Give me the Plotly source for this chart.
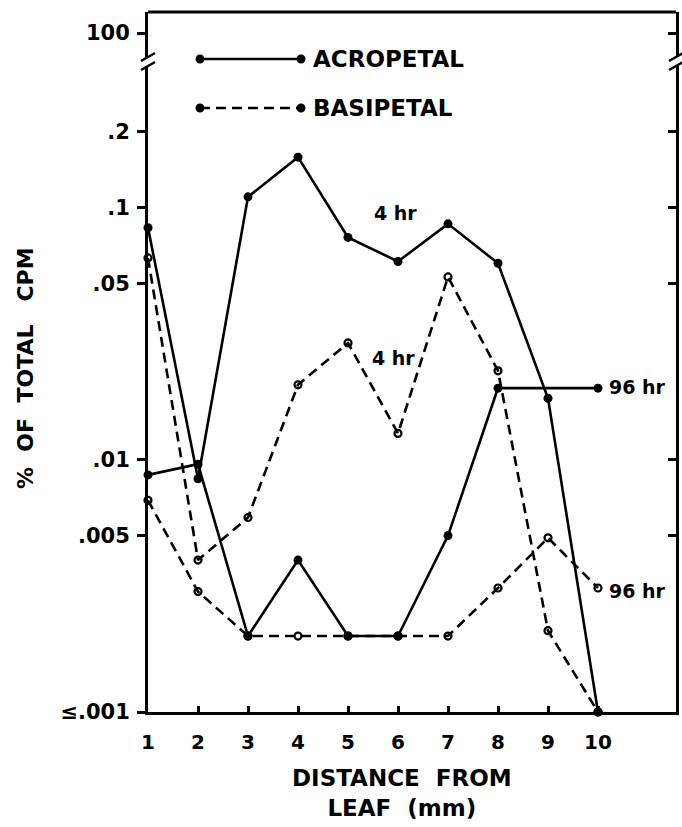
import plotly.graph_objects as go

# ---------------- data ----------------
distance = [1, 2, 3, 4, 5, 6, 7, 8, 9, 10]
acro_4hr = [0.083, 0.0084, 0.110, 0.158, 0.076, 0.061, 0.086, 0.060, 0.0175, 0.001]
acro_96hr_x = [1, 2, 3, 4, 5, 6, 7, 8, 10]
acro_96hr = [0.0087, 0.0096, 0.002, 0.004, 0.002, 0.002, 0.005, 0.0192, 0.0192]
basi_4hr = [0.063, 0.0040, 0.0059, 0.0198, 0.029, 0.0127, 0.053, 0.0225, 0.0021, 0.001]
basi_96hr = [0.0069, 0.0030, 0.002, 0.002, 0.002, 0.002, 0.002, 0.0031, 0.0049, 0.0031]

y_tickvals = [0.001, 0.005, 0.01, 0.05, 0.1, 0.2]
y_ticktext = ["≤.001", ".005", ".01", ".05", ".1", ".2"]
top_tickvals = [100]
top_ticktext = ["100"]
x_tickvals = distance

FAM = "DejaVu Sans"
BLACK = "black"
LW = 2.6
AXW = 3

fig = go.Figure()

solid_line = dict(color=BLACK, width=LW)
dash_line = dict(color=BLACK, width=LW, dash="10px,6px")
filled = dict(symbol="circle", size=9, color=BLACK)
hollow = dict(symbol="circle-open", size=7, color=BLACK, line=dict(width=2.2, color=BLACK))

fig.add_trace(go.Scatter(x=distance, y=acro_4hr, mode="lines+markers", line=solid_line,
                         marker=filled, cliponaxis=False, name="Acropetal 4 hr"))
fig.add_trace(go.Scatter(x=acro_96hr_x, y=acro_96hr, mode="lines+markers", line=solid_line,
                         marker=filled, cliponaxis=False, name="Acropetal 96 hr"))
fig.add_trace(go.Scatter(x=distance, y=basi_4hr, mode="lines+markers", line=dash_line,
                         marker=hollow, cliponaxis=False, name="Basipetal 4 hr"))
fig.add_trace(go.Scatter(x=distance, y=basi_96hr, mode="lines+markers", line=dash_line,
                         marker=hollow, cliponaxis=False, name="Basipetal 96 hr"))
# empty traces so that the frame axes (upper break section and right side) are drawn
for ya in ("y2", "y3", "y4"):
    fig.add_trace(go.Scatter(x=[None], y=[None], yaxis=ya, mode="markers",
                             hoverinfo="skip", showlegend=False))

W, H = 682, 827
ML, MR, MT, MB = 148, 6, 12, 115
PW, PH = W - ML - MR, H - MT - MB


def px(xp):
    return (xp - ML) / PW


def py(yp):
    return (H - MB - yp) / PH


main_top = py(66)
upper_bot = py(57)
y_range = [-3.0, -0.44]
top_range = [100 - 0.533 * 45, 100 + 0.467 * 45]

tickfont = dict(family=FAM, size=21, color=BLACK, weight="bold")

axis_common = dict(showgrid=False, zeroline=False, showline=True, linecolor=BLACK,
                   linewidth=AXW, tickcolor=BLACK, tickwidth=2.5)

fig.update_layout(
    width=W, height=H,
    margin=dict(l=ML, r=MR, t=MT, b=MB, pad=0),
    paper_bgcolor="white", plot_bgcolor="white",
    showlegend=False,
    xaxis=dict(**axis_common, range=[1, 1 + PW / 50], tickvals=x_tickvals,
               ticks="inside", ticklen=6, ticklabelstandoff=10,
               tickfont=dict(family=FAM, size=20, color=BLACK, weight="bold")),
    yaxis=dict(**axis_common, type="log", range=y_range, domain=[0, main_top],
               tickvals=y_tickvals, ticktext=y_ticktext, ticks="outside", ticklen=8,
               ticklabelstandoff=3, tickfont=tickfont),
    yaxis2=dict(**axis_common, anchor="x", range=top_range, domain=[upper_bot, 1],
                tickvals=top_tickvals, ticktext=top_ticktext, ticks="outside", ticklen=8,
                ticklabelstandoff=3, tickfont=tickfont),
    yaxis3=dict(**axis_common, type="log", range=y_range, overlaying="y", side="right",
                tickvals=y_tickvals, ticks="inside", ticklen=8, showticklabels=False),
    yaxis4=dict(**axis_common, range=top_range, overlaying="y2", side="right",
                tickvals=top_tickvals, ticks="inside", ticklen=8, showticklabels=False),
)

shapes = []
# top frame line
shapes.append(dict(type="line", xref="paper", yref="paper", x0=0, x1=1, y0=1, y1=1,
                   line=dict(color=BLACK, width=AXW)))
# axis break slashes (left and right)
for xa in (0, 1):
    for yb in (57, 66):
        shapes.append(dict(type="line", xref="paper", yref="paper",
                           xsizemode="pixel", ysizemode="pixel",
                           xanchor=xa, yanchor=py(yb), x0=-7, x1=7, y0=-4, y1=4,
                           line=dict(color=BLACK, width=2.5)))
# legend samples
for yl, dash in ((59, None), (108, "10px,6px")):
    ln = dict(color=BLACK, width=LW)
    if dash:
        ln["dash"] = dash
    shapes.append(dict(type="line", xref="paper", yref="paper",
                       x0=px(200), x1=px(301), y0=py(yl), y1=py(yl), line=ln))
    for xe in (200, 301):
        shapes.append(dict(type="circle", xref="paper", yref="paper",
                           xsizemode="pixel", ysizemode="pixel",
                           xanchor=px(xe), yanchor=py(yl), x0=-4.5, x1=4.5, y0=-4.5, y1=4.5,
                           fillcolor=BLACK, line=dict(color=BLACK, width=0)))
fig.update_layout(shapes=shapes)

bold = lambda s: dict(family=FAM, size=s, color=BLACK, weight="bold")
ann = []
ann.append(dict(text="ACROPETAL", x=px(311), y=py(59), xanchor="left", yanchor="middle",
                font=bold(23)))
ann.append(dict(text="BASIPETAL", x=px(311), y=py(108), xanchor="left", yanchor="middle",
                font=bold(23)))
ann.append(dict(text="4 hr", x=px(395), y=py(213), xanchor="center", yanchor="middle",
                font=bold(19)))
ann.append(dict(text="4 hr", x=px(393), y=py(358), xanchor="center", yanchor="middle",
                font=bold(19)))
ann.append(dict(text="96 hr", x=px(607), y=py(387), xanchor="left", yanchor="middle",
                font=bold(19)))
ann.append(dict(text="96 hr", x=px(607), y=py(591), xanchor="left", yanchor="middle",
                font=bold(19)))
ann.append(dict(text="%  OF  TOTAL   CPM", x=px(25), y=py(368), xanchor="center",
                yanchor="middle", textangle=-90, font=bold(22)))
ann.append(dict(text="DISTANCE  FROM<br>LEAF  (mm)", x=px(402), y=py(793), xanchor="center",
                yanchor="middle", font=bold(23)))
for a in ann:
    a.update(xref="paper", yref="paper", showarrow=False)
fig.update_layout(annotations=ann)

fig.write_html("out.html")
